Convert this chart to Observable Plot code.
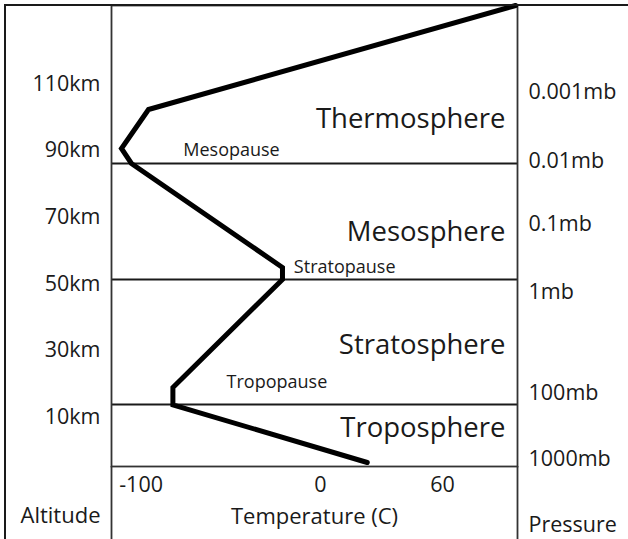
<!DOCTYPE html>
<html><head><meta charset="utf-8">
<script src="https://cdn.jsdelivr.net/npm/d3@7"></script>
<script src="https://cdn.jsdelivr.net/npm/@observablehq/plot@0.6"></script>
<style>
html,body{margin:0;padding:0;background:#fff;}
#wrap{position:relative;width:628px;height:539px;overflow:hidden;background:#fff;}
#wrap svg{position:absolute;left:0;top:0;}
#border{position:absolute;left:4px;top:4px;right:-10px;bottom:-10px;border-left:2px solid #1a1a1a;border-top:2px solid #1a1a1a;pointer-events:none;}
</style></head><body><div id="wrap"><div id="border"></div></div>
<script>
// Temperature profile (°C vs km)
const profileTemp = [23, -72.6, -72.6, -18.7, -18.7, -93.0, -97.9, -84.6, 96];
const profileAlt  = [-4.1, 13.2, 18.4, 50.8, 54.4, 85.6, 90.1, 101.8, 133];
// Layers
const layerNames = ["Troposphere", "Stratosphere", "Mesosphere", "Thermosphere"];
const layerLabelAlt = [3.5, 28.5, 62.3, 96.4];
// Pauses (boundaries)
const pauseNames = ["Tropopause", "Stratopause", "Mesopause"];
const pauseAlt = [13.3, 50.8, 85.6];
const pauseLabelTemp = [-46.2, -13.1, -67.5];
const pauseLabelAlt = [18.4, 52.7, 87.8];
// Axes
const altitudeTicks = [10, 30, 50, 70, 90, 110];
const pressureLabels = ["1000mb", "100mb", "1mb", "0.1mb", "0.01mb", "0.001mb"];
const pressureAlt = [-5.0, 14.7, 45.0, 65.3, 84.4, 105.1];
const tempTicks = [-100, 0, 60];

const xDomain = [-102.8, 96.9];
const yDomain = [-5.3, 133];
const W = 628, H = 539, mL = 111, mR = 111, mT = 5, mB = 73;
const kmPerPx = (yDomain[1] - yDomain[0]) / (H - mT - mB);
const bottomKm = yDomain[0] - mB * kmPerPx;

const profile = profileTemp.map((t, i) => ({t, a: profileAlt[i]}));
const layers = layerNames.map((n, i) => ({n, a: layerLabelAlt[i]}));
const pauses = pauseNames.map((n, i) => ({n, t: pauseLabelTemp[i], a: pauseLabelAlt[i]}));
const pressures = pressureLabels.map((n, i) => ({n, a: pressureAlt[i]}));

const ink = "#1a1a1a";
const chart = Plot.plot({
  width: W, height: H,
  marginLeft: mL, marginRight: mR, marginTop: mT, marginBottom: mB,
  x: {domain: xDomain, axis: null},
  y: {domain: yDomain, axis: null},
  style: {fontFamily: "'Open Sans', sans-serif", background: "transparent", color: ink, overflow: "visible"},
  marks: [
    Plot.ruleY(pauseAlt, {stroke: ink, strokeWidth: 1.8}),
    Plot.ruleX([xDomain[0], xDomain[1]], {y1: yDomain[0], y2: bottomKm, stroke: "#333", strokeWidth: 1.8}),
    Plot.frame({stroke: "#333", strokeWidth: 1.8}),
    Plot.line(profile, {x: "t", y: "a", stroke: "#000", strokeWidth: 5, strokeLinejoin: "miter", strokeMiterlimit: 4}),
    Plot.text(layers, {y: "a", text: "n", frameAnchor: "right", textAnchor: "end", dx: -12, lineAnchor: "bottom", fontSize: 27.5, fill: ink}),
    Plot.text(pauses, {x: "t", y: "a", text: "n", textAnchor: "start", lineAnchor: "bottom", fontSize: 18, fill: ink}),
    Plot.axisY(altitudeTicks, {anchor: "left", tickSize: 0, tickPadding: 11, tickFormat: d => `${d}km`, fontSize: 21.5, dy: 1.5, label: null, fill: ink}),
    Plot.text(pressures, {y: "a", text: "n", frameAnchor: "right", textAnchor: "start", dx: 11, lineAnchor: "bottom", fontSize: 21.5, fill: ink}),
    Plot.text(tempTicks.slice(0, 1), {x: d => d, text: d => String(d), frameAnchor: "bottom", textAnchor: "start", dx: 2, dy: 25.7, lineAnchor: "bottom", fontSize: 21.5, fill: ink}),
    Plot.text(tempTicks.slice(1), {x: d => d, text: d => String(d), frameAnchor: "bottom", textAnchor: "middle", dy: 25.7, lineAnchor: "bottom", fontSize: 21.5, fill: ink}),
    Plot.text(["Temperature (C)"], {text: d => d, frameAnchor: "bottom", dy: 57, lineAnchor: "bottom", fontSize: 22, fill: ink}),
    Plot.text(["Altitude"], {text: d => d, frameAnchor: "bottom-left", textAnchor: "end", dx: -11, dy: 56, lineAnchor: "bottom", fontSize: 22, fill: ink}),
    Plot.text(["Pressure"], {text: d => d, frameAnchor: "bottom-right", textAnchor: "start", dx: 11, dy: 65, lineAnchor: "bottom", fontSize: 21.5, fill: ink})
  ]
});
document.getElementById("wrap").insertBefore(chart, document.getElementById("border"));
</script>
</body></html>
